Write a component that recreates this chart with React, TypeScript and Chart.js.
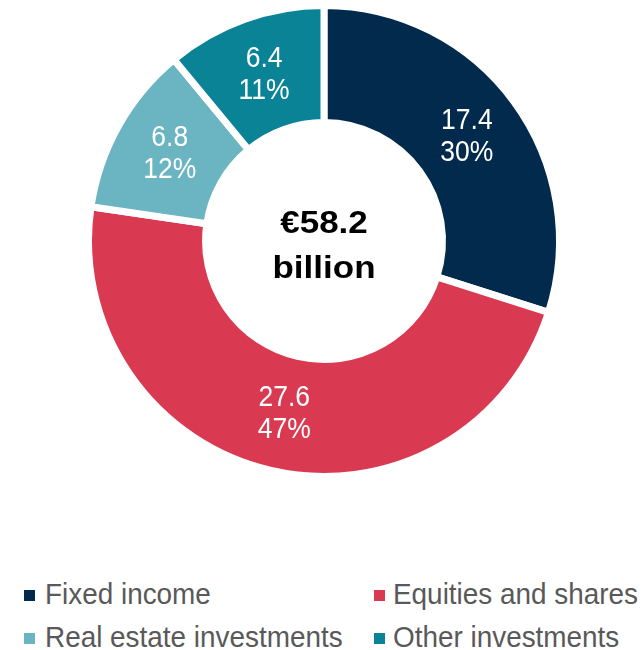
import React, { useEffect, useRef } from "react";
import { Chart, registerables } from "chart.js";

Chart.register(...registerables);

const categories = ["Fixed income", "Equities and shares", "Real estate investments", "Other investments"];
const values = [17.4, 27.6, 6.8, 6.4];
const valueLabels = ["17.4", "27.6", "6.8", "6.4"];
const percentLabels = ["30%", "47%", "12%", "11%"];
const colors = ["#012A4D", "#D93A52", "#6BB4C1", "#0A8397"];
const centerLines = ["€58.2", "billion"];

const FONT = '"Liberation Sans", Arial, Helvetica, sans-serif';

const labelPlugin = {
  id: "sliceLabels",
  afterDatasetsDraw(chart: any) {
    const ctx = chart.ctx;
    const meta = chart.getDatasetMeta(0);
    meta.data.forEach((arc: any, i: number) => {
      const p = arc.tooltipPosition(false);
      ctx.save();
      ctx.translate(p.x, p.y);
      ctx.scale(1, 1.09);
      ctx.fillStyle = "#ffffff";
      ctx.font = `26.5px ${FONT}`;
      ctx.textAlign = "center";
      ctx.textBaseline = "middle";
      ctx.fillText(valueLabels[i], 0, -14.5);
      ctx.fillText(percentLabels[i], 0, 15);
      ctx.restore();
    });
    const area = chart.chartArea;
    const cx = (area.left + area.right) / 2;
    const cy = (area.top + area.bottom) / 2;
    const baselines = [cy - 8, cy + 37];
    centerLines.forEach((t, i) => {
      ctx.save();
      ctx.translate(cx, baselines[i]);
      ctx.scale(1, 0.9);
      ctx.fillStyle = "#000000";
      ctx.font = `bold 35px ${FONT}`;
      ctx.textAlign = "center";
      ctx.textBaseline = "alphabetic";
      ctx.fillText(t, 0, 0);
      ctx.restore();
    });
  },
};

function Legend() {
  const cols = [
    { marker: 24, text: 45 },
    { marker: 374, text: 393 },
  ];
  const rows = [579.5, 622.5];
  return (
    <>
      {categories.map((c, i) => {
        const col = cols[i % 2];
        const top = rows[Math.floor(i / 2)];
        return (
          <React.Fragment key={c}>
            <div
              style={{
                position: "fixed",
                left: col.marker,
                top: top + 10.5,
                width: 11,
                height: 11,
                background: colors[i],
              }}
            />
            <div
              style={{
                position: "fixed",
                left: col.text,
                top,
                fontFamily: FONT,
                fontSize: "27.9px",
                lineHeight: "27.9px",
                color: "#595959",
                whiteSpace: "nowrap",
                transform: "scaleY(1.07)",
              }}
            >
              {c}
            </div>
          </React.Fragment>
        );
      })}
    </>
  );
}

export default function App() {
  const ref = useRef<HTMLCanvasElement | null>(null);
  useEffect(() => {
    if (!ref.current) return;
    const chart = new Chart(ref.current, {
      type: "doughnut",
      data: {
        labels: categories,
        datasets: [
          {
            data: values,
            backgroundColor: colors,
            borderColor: "#ffffff",
            borderWidth: 7,
            hoverOffset: 0,
          },
        ],
      },
      options: {
        responsive: false,
        animation: false,
        radius: 235.5,
        cutout: "50.3%",
        layout: { padding: { left: 5, right: 0, top: 0, bottom: 0 } },
        plugins: {
          legend: { display: false },
          tooltip: { enabled: false },
        },
      } as any,
      plugins: [labelPlugin],
    });
    return () => chart.destroy();
  }, []);
  return (
    <div style={{ position: "fixed", left: 0, top: 0, width: 643, height: 650, background: "#fff" }}>
      <canvas ref={ref} width={643} height={482} style={{ position: "absolute", left: 0, top: 0 }} />
      <Legend />
    </div>
  );
}
